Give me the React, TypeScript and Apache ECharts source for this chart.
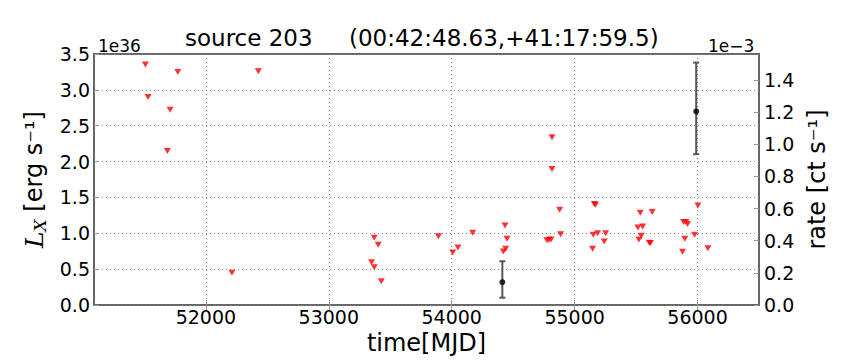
import React, { useEffect, useRef } from "react";
import * as echarts from "echarts";

const xTicks = [52000, 53000, 54000, 55000, 56000];
const limitMjd = [51508, 51530, 51687, 51709, 51772, 52212, 52427, 53348, 53370, 53370, 53402, 53427, 53892, 54008, 54051, 54171, 54420, 54434, 54439, 54450, 54775, 54791, 54808, 54816, 54816, 54878, 54886, 55146, 55152, 55160, 55170, 55187, 55241, 55252, 55515, 55523, 55534, 55542, 55553, 55607, 55617, 55631, 55878, 55886, 55897, 55905, 55919, 55976, 56003, 56084];
const limitLx = [3.354, 2.9, 2.147, 2.724, 3.25, 0.451, 3.26, 0.597, 0.94, 0.526, 0.84, 0.333, 0.958, 0.733, 0.803, 1.01, 0.747, 1.108, 0.784, 0.925, 0.905, 0.91, 0.915, 2.339, 1.898, 1.329, 0.986, 0.784, 0.982, 1.41, 1.4, 1.0, 0.888, 1.0, 1.08, 0.916, 1.287, 0.968, 1.094, 0.87, 0.865, 1.296, 0.742, 1.16, 0.925, 1.16, 1.13, 0.98, 1.39, 0.794];
const detMjd = [54412, 55989];
const detLx = [0.319, 2.7];
const detLo = [0.103, 2.104];
const detHi = [0.611, 3.38];

const FONT = "DejaVu Sans";

export default function App() {
  const ref = useRef<HTMLDivElement>(null);
  useEffect(() => {
    if (!ref.current) return;
    const chart = echarts.init(ref.current, null, { renderer: "svg" });
    const xMin = 51090, xMax = 56500;
    const gridLeft = 94, gridRight = 105, gridTop = 54, gridBottom = 54;
    const tickLabel = { fontFamily: FONT, fontSize: 19, color: "#000" };
    chart.setOption({
      animation: false,
      backgroundColor: "#fff",
      grid: { left: gridLeft, right: gridRight, top: gridTop, bottom: gridBottom, show: true, borderColor: "#666", borderWidth: 2, containLabel: false },
      graphic: [
        { type: "text", x: 185, y: 38, style: { text: "source 203", font: `23px '${FONT}'`, fill: "#000", textVerticalAlign: "middle" } },
        { type: "text", x: 349, y: 38, style: { text: "(00:42:48.63,+41:17:59.5)", font: `23px '${FONT}'`, fill: "#000", textVerticalAlign: "middle" } },
        { type: "text", x: 98, y: 46, style: { text: "1e36", font: `17px '${FONT}'`, fill: "#000", textVerticalAlign: "middle" } },
        { type: "text", x: 708, y: 46, style: { text: "1e\u22123", font: `17px '${FONT}'`, fill: "#000", textVerticalAlign: "middle" } },
      ],
      xAxis: [
        {
          type: "value", min: xMin, max: xMax, position: "bottom",
          name: "time[MJD]", nameLocation: "middle", nameGap: 20,
          nameTextStyle: { fontFamily: FONT, fontSize: 24, color: "#000", verticalAlign: "top" },
          axisLine: { show: false },
          axisTick: { show: true, inside: true, length: 5, customValues: xTicks, lineStyle: { color: "#999" } },
          axisLabel: { ...tickLabel, customValues: xTicks, margin: 2, formatter: (v: number) => String(v) },
          splitLine: { show: true, customValues: xTicks, lineStyle: { color: "#888", type: [1, 3], width: 1 } },
        },
        {
          type: "value", min: xMin, max: xMax, position: "top",
          axisLine: { show: false },
          axisTick: { show: true, inside: true, length: 5, customValues: xTicks, lineStyle: { color: "#999" } },
          axisLabel: { show: false, customValues: xTicks },
          splitLine: { show: false },
        },
      ],
      yAxis: [
        {
          type: "value", min: 0, max: 3.5, interval: 0.5, position: "left",
          name: "{i|L}{sub|X} [erg s\u207B\u00B9]", nameLocation: "middle", nameGap: 37, nameRotate: 90,
          nameTextStyle: {
            fontFamily: FONT, fontSize: 24, color: "#000",
            rich: {
              i: { fontFamily: "DejaVu Serif", fontStyle: "italic", fontSize: 25, color: "#000" },
              sub: { fontFamily: "DejaVu Serif", fontStyle: "italic", fontSize: 17, color: "#000", padding: [12, 0, 0, 0] },
            },
          },
          axisLine: { show: false },
          axisTick: { show: true, inside: true, length: 5, lineStyle: { color: "#999" } },
          axisLabel: { ...tickLabel, margin: 4, formatter: (v: number) => v.toFixed(1) },
          splitLine: { show: true, lineStyle: { color: "#888", type: [1, 3], width: 1 } },
        },
        {
          type: "value", min: 0, max: 1.56, interval: 0.2, position: "right",
          name: "rate [ct s\u207B\u00B9]", nameLocation: "middle", nameGap: 43, nameRotate: 90,
          nameTextStyle: { fontFamily: FONT, fontSize: 24, color: "#000" },
          axisLine: { show: false },
          axisTick: { show: true, inside: true, length: 5, lineStyle: { color: "#999" } },
          axisLabel: { ...tickLabel, margin: 5, showMaxLabel: false, formatter: (v: number) => (Math.abs(v * 5 - Math.round(v * 5)) < 1e-6 ? v.toFixed(1) : "") },
          splitLine: { show: false },
        },
      ],
      series: [
        {
          type: "scatter", xAxisIndex: 0, yAxisIndex: 0,
          symbol: "triangle", symbolRotate: 180, symbolSize: [7, 6],
          itemStyle: { color: "#ff0000" },
          data: limitMjd.map((x, i) => [x, limitLx[i]]),
          z: 3,
        },
        {
          type: "custom", xAxisIndex: 0, yAxisIndex: 0,
          data: detMjd.map((x, i) => [x, detLx[i], detLo[i], detHi[i]]),
          renderItem: (params: any, api: any) => {
            const x = api.value(0);
            const lo = api.coord([x, api.value(2)]);
            const hi = api.coord([x, api.value(3)]);
            const style = { stroke: "#555", lineWidth: 2 };
            const cap = 3;
            return {
              type: "group",
              children: [
                { type: "line", shape: { x1: lo[0], y1: lo[1], x2: hi[0], y2: hi[1] }, style },
                { type: "line", shape: { x1: lo[0] - cap, y1: lo[1], x2: lo[0] + cap, y2: lo[1] }, style },
                { type: "line", shape: { x1: hi[0] - cap, y1: hi[1], x2: hi[0] + cap, y2: hi[1] }, style },
              ],
            };
          },
          z: 4,
        },
        {
          type: "scatter", xAxisIndex: 0, yAxisIndex: 0,
          symbol: "circle", symbolSize: 6,
          itemStyle: { color: "#000" },
          data: detMjd.map((x, i) => [x, detLx[i]]),
          z: 5,
        },
      ],
    });
    return () => chart.dispose();
  }, []);
  return <div ref={ref} style={{ width: 864, height: 360, position: "absolute", left: 0, top: 0 }} />;
}
